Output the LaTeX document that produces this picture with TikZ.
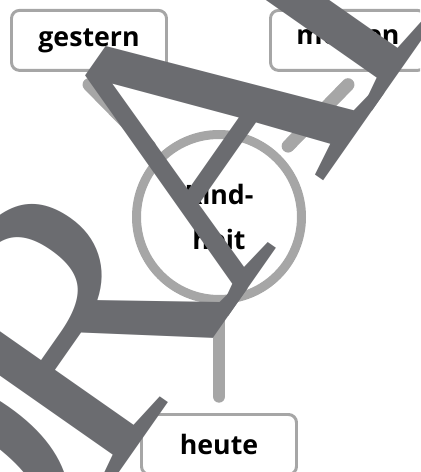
\documentclass[tikz,border=0pt]{standalone}
\usepackage{fontspec}
\newfontfamily\labelfont{Open Sans}
\newfontfamily\draftfont[LetterSpace=-10]{Liberation Serif}
\usepackage{tikz}
\usetikzlibrary{positioning,calc}
\definecolor{rimgray}{RGB}{166,166,166}
\definecolor{draftgray}{RGB}{107,108,112}

\begin{document}
\begin{tikzpicture}[
    timebox/.style={draw=rimgray,line width=2.1pt,rounded corners=0.2cm,fill=white,
                    minimum width=3.875cm,minimum height=1.5cm,
                    font=\labelfont\bfseries\fontsize{19}{32}\selectfont},
    hubcircle/.style={circle,draw=rimgray,line width=6.4pt,minimum size=4.125cm,
                      align=center,font=\labelfont\bfseries\fontsize{19}{32}\selectfont},
    link/.style={draw=rimgray,line width=9.2pt,line cap=round,shorten >=0.3cm},
    watermark/.style={text=draftgray,inner sep=0pt,
                      font=\draftfont\fontsize{275}{300}\selectfont}]
  \useasboundingbox (0,0) rectangle (10.5,11.8);
  \clip (0,0) rectangle (10.5,11.8);
  % hub and the three time boxes
  \node[hubcircle] (hub) at (5.475,6.375) {Kind-\\heit};
  \node[timebox] (gestern) at (2.225,10.79) {gestern};
  \node[timebox] (morgen) at (8.7,10.79) {morgen};
  \node[timebox] (heute) at (5.475,0.6875) {heute};
  % spokes
  \draw[link] ($(gestern.south)+(0,-0.32)$) -- (hub);
  \draw[link] ($(morgen.south)+(0,-0.32)$) -- (hub);
  \draw[link] ($(heute.north)+(0,0.42)$) -- (hub);
  % stamp on top
  \node[watermark,rotate=55,anchor=base west] (draft) at (-0.94,-5.615) {DRAFT};
\end{tikzpicture}
\end{document}
